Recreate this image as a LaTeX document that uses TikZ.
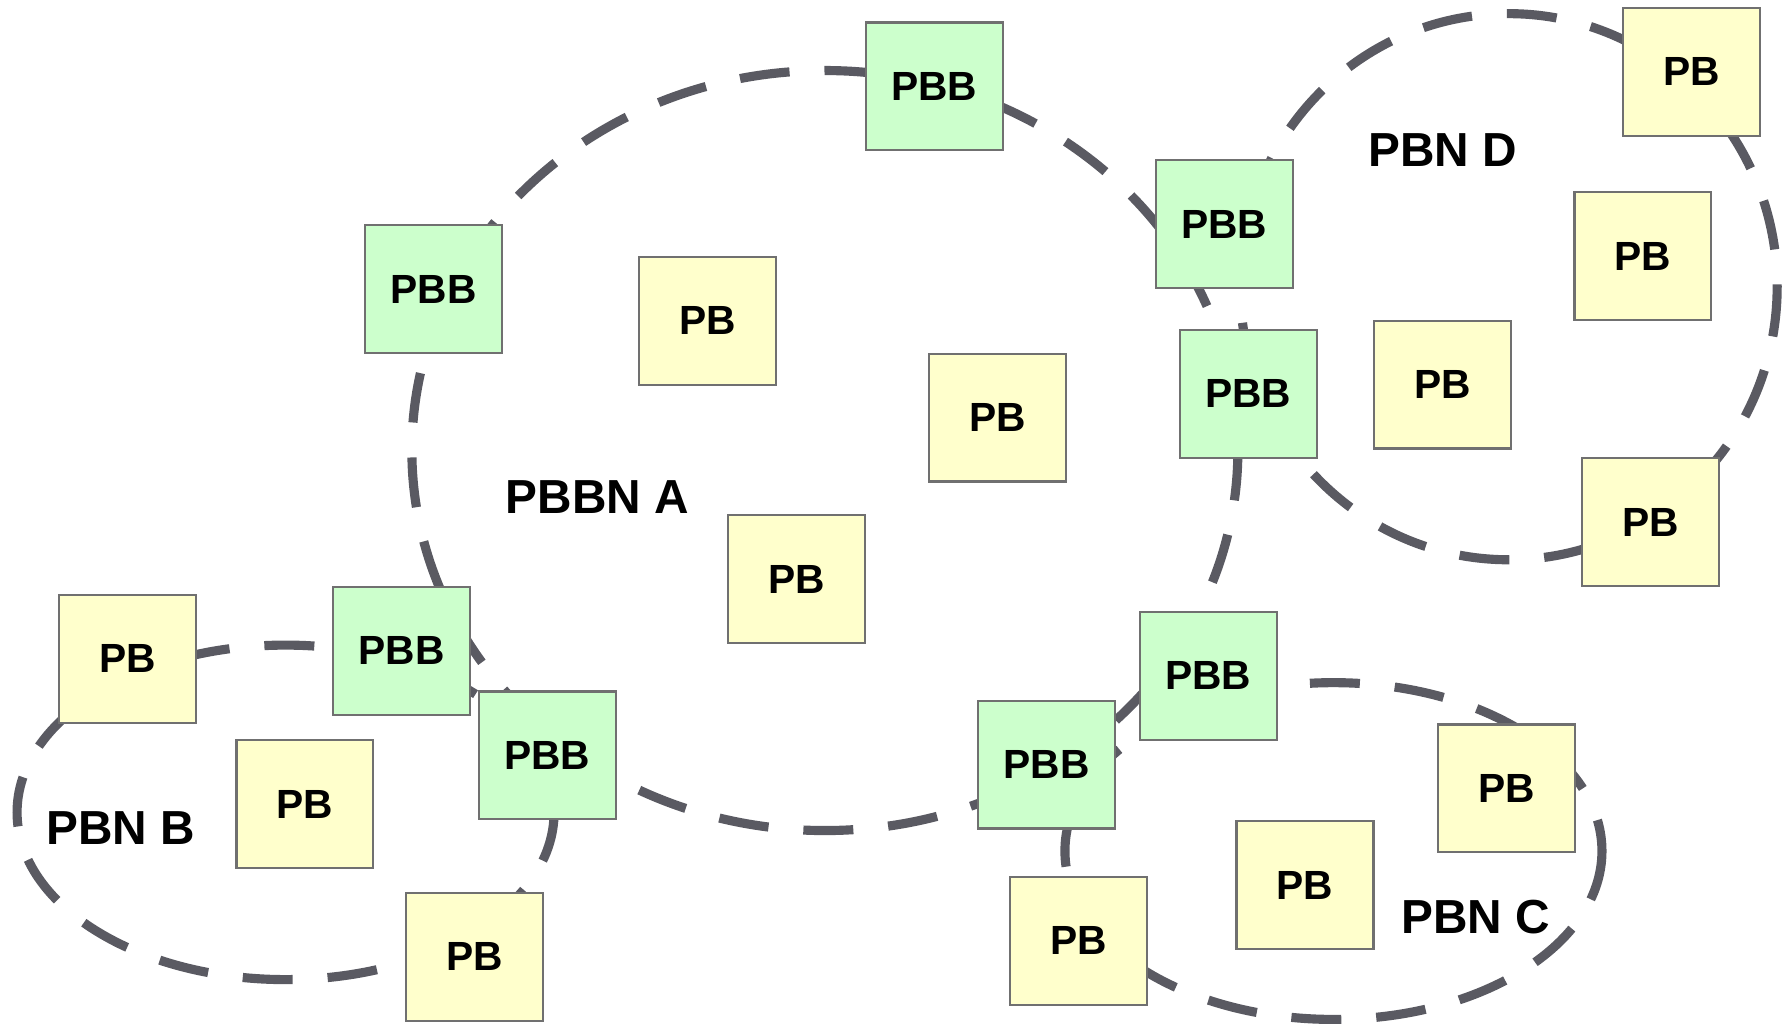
\documentclass[tikz,border=0pt]{standalone}
\usepackage{fontspec}
\setmainfont{Liberation Sans}
\definecolor{pbyellow}{HTML}{FFFFCC}
\definecolor{pbgreen}{HTML}{CCFFCC}
\definecolor{ringgray}{HTML}{5A5A62}
\definecolor{boxgray}{HTML}{707070}
\tikzstyle{pb}=[draw=boxgray,line width=0.6pt,fill=pbyellow,minimum width=1.37cm,minimum height=1.28cm,inner sep=0pt,font=\fontsize{11.6}{12}\selectfont\bfseries]
\tikzstyle{pbb}=[pb,fill=pbgreen]
\tikzstyle{ring}=[draw=ringgray,line width=2.6pt,dash pattern=on 0.5cm off 0.35cm]
\tikzstyle{netname}=[font=\fontsize{13.6}{14}\selectfont\bfseries]

\begin{document}
\begin{tikzpicture}[x=0.011378cm, y=-0.011378cm]
    \useasboundingbox (0,0) rectangle (1568,904);
    % First we draw the dashed network rings
    \foreach \pos/\rx/\ry in {{(725,396)/363/334}, {(1326,252)/236/240},
                              {(251,714)/236/147}, {(1172,748)/236/148}}
        \draw[ring] \pos ellipse [x radius=\rx, y radius=\ry];
    % Network names
    \foreach \pos/\name/\txt in {{(525,437)/netA/PBBN A}, {(1268,132)/netD/PBN D},
                                 {(106,728)/netB/PBN B}, {(1297,806)/netC/PBN C}}
        \node[netname] (\name) at \pos {\txt};
    % Then the backbone bridges
    \foreach \pos/\name in {{(821,76)/bbTop}, {(381,254)/bbLeft}, {(1076,197)/bbAD},
                            {(1097,346)/bbAD2}, {(353,572)/bbAB}, {(481,664)/bbAB2},
                            {(1062,594)/bbAC}, {(920,672)/bbAC2}}
        \node[pbb] (\name) at \pos {PBB};
    % And the plain bridges
    \foreach \pos/\name in {{(1487,63)/d1}, {(1444,225)/d2}, {(1268,338)/d3}, {(1451,459)/d4},
                            {(622,282)/a1}, {(877,367)/a2}, {(700,509)/a3},
                            {(112,579)/b1}, {(268,707)/b2}, {(417,841)/b3},
                            {(1324,693)/c1}, {(1147,778)/c2}, {(948,827)/c3}}
        \node[pb] (\name) at \pos {PB};
\end{tikzpicture}
\end{document}
